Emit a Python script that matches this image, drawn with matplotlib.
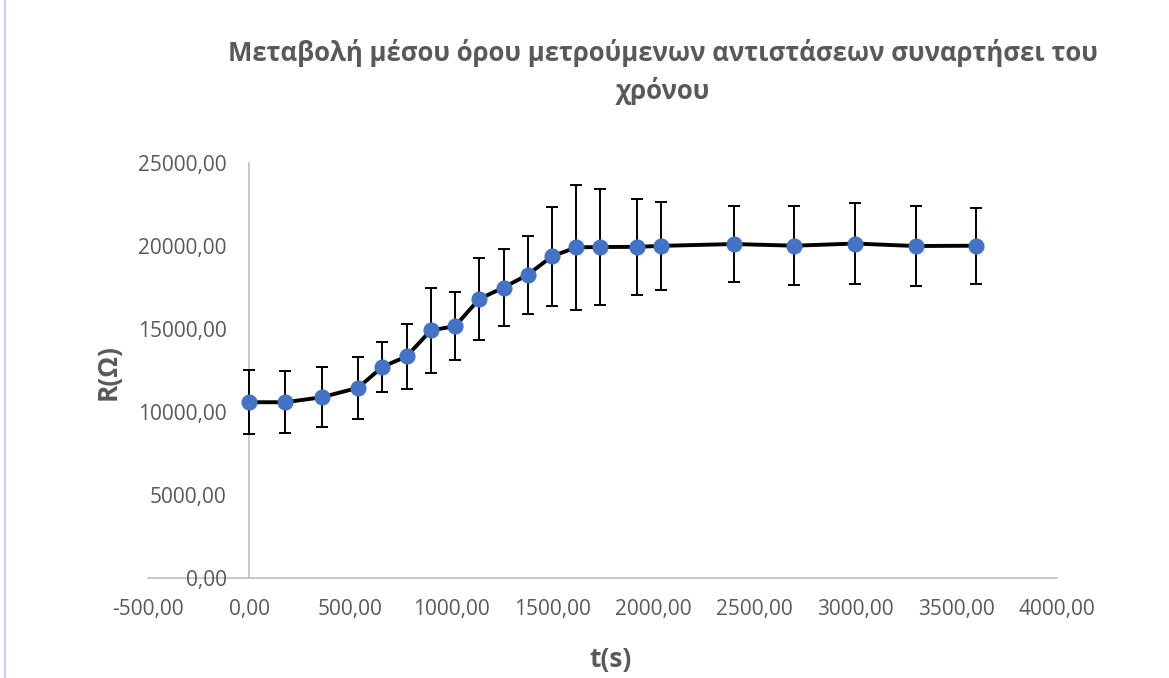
import matplotlib
matplotlib.use("Agg")
import matplotlib.pyplot as plt
from matplotlib.ticker import FuncFormatter, MultipleLocator
from matplotlib.lines import Line2D

# Measurement times (s)
t_s = [0, 180, 360, 540, 660, 780, 900, 1020, 1140, 1260, 1380, 1500, 1620,
       1740, 1920, 2040, 2400, 2700, 3000, 3300, 3600]

# Mean measured resistance (Ohm)
r_mean = [10570, 10570, 10870, 11440, 12700, 13330, 14900, 15150, 16790,
          17480, 18250, 19360, 19900, 19920, 19930, 19990, 20100, 20000,
          20130, 19980, 20000]

# Error (Ohm), symmetric
r_err = [1920, 1880, 1800, 1880, 1520, 1950, 2580, 2040, 2450, 2340, 2340,
         2990, 3770, 3470, 2880, 2660, 2290, 2390, 2420, 2410, 2290]

title_text = "Μεταβολή μέσου όρου μετρούμενων αντιστάσεων συναρτήσει του\nχρόνου"
x_label = "t(s)"
y_label = "R(Ω)"

W, H, DPI = 1169, 678, 100
fig = plt.figure(figsize=(W / DPI, H / DPI), dpi=DPI)
plt.rcParams['font.family'] = ['Open Sans', 'DejaVu Sans']

grey_txt = "#595959"
axis_col = "#bfbfbf"

ax = fig.add_axes([148 / W, 1 - 577.7 / H, (1057 - 148) / W, (577.7 - 162.7) / H])

ax.errorbar(t_s, r_mean, yerr=r_err, fmt="none", ecolor="black",
            elinewidth=1.4, capsize=4.3, capthick=1.4, zorder=2)
ax.plot(t_s, r_mean, color="black", linewidth=2.8, zorder=3,
        solid_joinstyle="round")
ax.plot(t_s, r_mean, linestyle="none", marker="o", markersize=10.6,
        markerfacecolor="#4472C4", markeredgecolor="#4472C4", zorder=4)

ax.set_xlim(-500, 4000)
ax.set_ylim(0, 25000)
ax.xaxis.set_major_locator(MultipleLocator(500))
ax.yaxis.set_major_locator(MultipleLocator(5000))
fmt = FuncFormatter(lambda v, p: f"{v:.2f}".replace(".", ","))
ax.xaxis.set_major_formatter(fmt)
ax.yaxis.set_major_formatter(fmt)

for s in ("top", "right"):
    ax.spines[s].set_visible(False)
ax.spines["left"].set_position(("data", 0))
for s in ("left", "bottom"):
    ax.spines[s].set_color(axis_col)
    ax.spines[s].set_linewidth(1.2)
    ax.spines[s].set_zorder(1)

ax.tick_params(axis="both", length=0, labelsize=15, labelcolor=grey_txt)
ax.tick_params(axis="y", pad=16)
ax.tick_params(axis="x", pad=15)
ax.patch.set_alpha(0)

fig.text(663 / W, 1 - 72 / H, title_text, ha="center", va="center",
         fontsize=18.5, fontweight="bold", color=grey_txt, linespacing=1.45)
fig.text(610 / W, 1 - 660 / H, x_label, ha="center", va="center",
         fontsize=19, fontweight="bold", color=grey_txt)
fig.text(108 / W, 1 - 372 / H, y_label, ha="center", va="center",
         rotation=90, fontsize=19, fontweight="bold", color=grey_txt)

# thin frame line at left edge
fig.add_artist(Line2D([5 / W, 5 / W], [0, 1], transform=fig.transFigure,
                      color="#c8d5ee", linewidth=1.6))

fig.savefig("out.png", dpi=DPI)
